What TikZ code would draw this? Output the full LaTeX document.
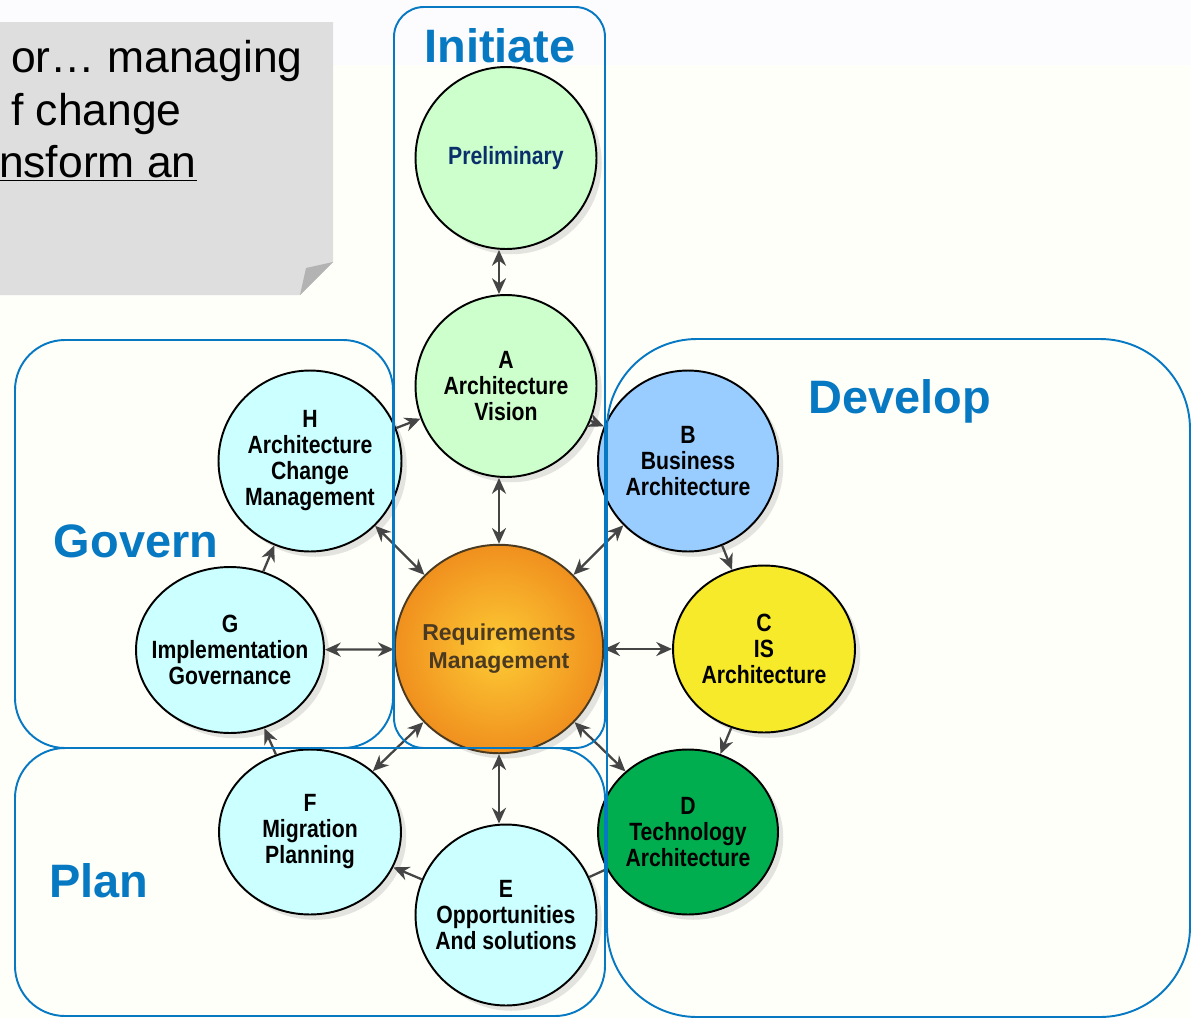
\documentclass[tikz,border=0pt]{standalone}
\usepackage{fontspec}
\setmainfont{Liberation Sans}
\newfontfamily\phasefont[FakeStretch=0.85]{Liberation Sans Bold}
\usetikzlibrary{shapes.geometric,arrows.meta,shadows}
\definecolor{grpblue}{HTML}{0679C2}
\definecolor{notegray}{HTML}{DEDEDE}
\definecolor{foldgray}{HTML}{B3B3B3}
\definecolor{greenfill}{HTML}{CCFFCC}
\definecolor{cyanfill}{HTML}{CCFFFF}
\definecolor{bluefill}{HTML}{99CCFF}
\definecolor{yellowfill}{HTML}{F7EA2A}
\definecolor{darkgreen}{HTML}{00AE4F}
\definecolor{prelimtext}{HTML}{0B2F6A}
\definecolor{rmin}{HTML}{FDCB35}
\definecolor{rmout}{HTML}{F0901E}
\definecolor{rmtext}{HTML}{4A3A22}
\definecolor{arrowgray}{HTML}{454545}
\tikzset{
	phase/.style={ellipse,draw=black,line width=1.1pt,inner xsep=-20pt,inner ysep=-10pt,align=center,
		font=\phasefont\fontsize{14.2}{14.8}\selectfont,
		drop shadow={shadow xshift=3pt,shadow yshift=-3pt,opacity=0.22}},
	grpbox/.style={draw=grpblue,line width=1.1pt},
	grptitle/.style={text=grpblue,anchor=base,font=\bfseries\fontsize{26.7}{30}\selectfont},
	notetxt/.style={anchor=base east,inner sep=0pt,font=\fontsize{25.3}{30}\selectfont},
	link/.style={draw=arrowgray,line width=1.3pt},
	arr/.style={link,-{Stealth[length=9pt,width=8pt]}},
	dbl/.style={link,{Stealth[length=9pt,width=8pt]}-{Stealth[length=9pt,width=8pt]}}
}
\begin{document}
\begin{tikzpicture}[x=0.02cm,y=-0.02cm]
	\useasboundingbox (0,0) rectangle (1191,1018);
	\fill[white!98!yellow] (0,0) rectangle (1191,1018);
	\fill[white!97!blue!40] (0,0) rectangle (1191,65);
%
	% the note in the corner
	\fill[notegray] (0,22) -- (333,22) -- (333,262) -- (300,295) -- (0,295) -- cycle;
	\fill[foldgray] (300,295) -- (306,268) -- (333,262) -- cycle;
	\node[notetxt] (line1) at (303,72) {or… managing};
	\node[notetxt] (line2) at (182,125) {f change};
	\node[notetxt] (line3) at (197,177) {\underline{nsform an}};
%
	% phases
	\node[phase,fill=greenfill,minimum width=3.62cm,minimum height=3.64cm,text=prelimtext] (prelim) at (506,158) {Preliminary};
	\node[phase,fill=greenfill,minimum width=3.62cm,minimum height=3.64cm] (a) at (506,386) {A\\Architecture\\Vision};
	\node[phase,fill=bluefill,minimum width=3.6cm,minimum height=3.62cm] (b) at (688,461) {B\\Business\\Architecture};
	\node[phase,fill=yellowfill,minimum width=3.64cm,minimum height=3.34cm] (c) at (764,649) {C\\IS\\Architecture};
	\node[phase,fill=darkgreen,minimum width=3.6cm,minimum height=3.3cm] (d) at (688,832) {D\\Technology\\Architecture};
	\node[phase,fill=cyanfill,minimum width=3.62cm,minimum height=3.62cm] (e) at (506,915) {E\\Opportunities\\And solutions};
	\node[phase,fill=cyanfill,minimum width=3.64cm,minimum height=3.3cm] (f) at (310,832) {F\\Migration\\Planning};
	\node[phase,fill=cyanfill,minimum width=3.76cm,minimum height=3.32cm] (g) at (230,650) {G\\Implementation\\Governance};
	\node[phase,fill=cyanfill,minimum width=3.66cm,minimum height=3.62cm] (h) at (310,461) {H\\Architecture\\Change\\Management};
	\node[phase,circle,inner sep=0pt,draw=rmtext,inner color=rmin,outer color=rmout,minimum size=4.17cm,text=rmtext,
		font=\bfseries\fontsize{13.1}{15.9}\selectfont] (rm) at (499,649) {Requirements\\Management};
%
	% connectors
	\draw[dbl] (prelim.south -| rm) -- (a.north -| rm);
	\draw[dbl] (a.south -| rm) -- (rm);
	\draw[dbl] (rm) -- (e.north -| rm);
	\draw[arr] (h) -- (a);
	\draw[arr] (a) -- (b);
	\draw[arr] (b) -- (c);
	\draw[arr] (c) -- (d);
	\draw[link] (d) -- (e);
	\draw[arr] (e) -- (f);
	\draw[arr] (f) -- (g);
	\draw[arr] (g) -- (h);
	\foreach \p in {b,c,d,f,g,h}
		\draw[dbl] (rm) -- (\p);
%
	% groups
	\draw[grpbox,rounded corners=0.6cm] (394,7) rectangle (605,748);
	\draw[grpbox,rounded corners=1cm] (15,340) rectangle (393,748);
	\draw[grpbox,rounded corners=1cm] (15,748) rectangle (605,1016);
	\draw[grpbox,rounded corners=1.8cm] (607,339) rectangle (1190,1017);
	\node[grptitle] (initiate) at (500,62) {Initiate};
	\node[grptitle] (develop) at (900,413) {Develop};
	\node[grptitle] (govern) at (136,557) {Govern};
	\node[grptitle] (plan) at (99,897) {Plan};
\end{tikzpicture}
\end{document}
